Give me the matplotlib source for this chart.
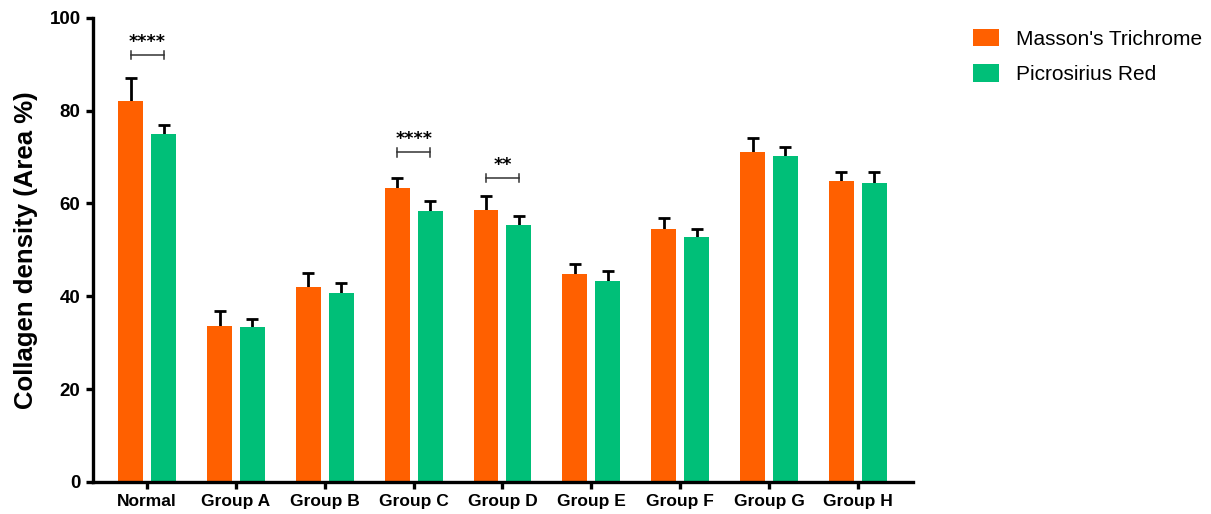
import numpy as np
import matplotlib
matplotlib.use("Agg")
import matplotlib.pyplot as plt

plt.rcParams["font.family"] = ["Liberation Sans", "DejaVu Sans"]

# Data
groups = ["Normal", "Group A", "Group B", "Group C", "Group D",
          "Group E", "Group F", "Group G", "Group H"]
masson = [82.0, 33.5, 42.0, 63.4, 58.6, 44.8, 54.6, 71.1, 64.8]
masson_err = [5.0, 3.4, 3.0, 2.1, 3.0, 2.2, 2.2, 3.1, 2.0]
picro = [75.0, 33.3, 40.8, 58.3, 55.3, 43.4, 52.8, 70.2, 64.4]
picro_err = [1.9, 1.8, 2.0, 2.3, 2.1, 2.0, 1.8, 2.0, 2.4]

# significance annotations: (group index, bracket height, label)
sig_groups = [0, 3, 4]
sig_heights = [92.0, 71.0, 65.5]
sig_labels = ["****", "****", "**"]

orange = "#FF6000"
green = "#00BF78"

fig = plt.figure(figsize=(12.11, 5.14), dpi=100)
ax = fig.add_axes([0.0768, 0.0623, 0.677, 0.903])

x = np.arange(len(groups))
w = 0.28
off = 0.185


def upper_err(xpos, vals, errs):
    # upper-only error bars with a cap at the top
    tops = np.array(vals) + np.array(errs)
    ax.vlines(xpos, vals, tops, color="black", lw=2.0, zorder=1)
    ax.plot(xpos, tops, ls="none", marker="_", markersize=9, mew=2.0,
            color="black", zorder=1)


upper_err(x - off, masson, masson_err)
upper_err(x + off, picro, picro_err)
ax.bar(x - off, masson, w, color=orange, label="Masson's Trichrome", zorder=2)
ax.bar(x + off, picro, w, color=green, label="Picrosirius Red", zorder=2)

# significance brackets
for g, h, lab in zip(sig_groups, sig_heights, sig_labels):
    x0, x1 = g - off, g + off
    ax.plot([x0, x1], [h, h], color="#333333", lw=1.1)
    ax.plot([x0, x0], [h - 0.9, h + 0.9], color="#333333", lw=1.1)
    ax.plot([x1, x1], [h - 0.9, h + 0.9], color="#333333", lw=1.1)
    ax.text(g, h + 0.9, lab, ha="center", va="bottom", fontsize=12.5,
            fontweight="bold", family="DejaVu Sans")

ax.set_xlim(-0.61, 8.62)
ax.set_ylim(0, 100)
ax.set_yticks([0, 20, 40, 60, 80, 100])
ax.set_xticks(x)
ax.set_xticklabels(groups)
for lbl in ax.get_xticklabels() + ax.get_yticklabels():
    lbl.set_fontweight("bold")
    lbl.set_fontsize(12.5)
for lbl in ax.get_yticklabels():
    lbl.set_fontsize(13.5)

ax.set_ylabel("Collagen density (Area %)", fontsize=18.5, fontweight="bold",
              labelpad=8)

for s in ["top", "right"]:
    ax.spines[s].set_visible(False)
for s in ["left", "bottom"]:
    ax.spines[s].set_linewidth(2.4)
ax.tick_params(axis="both", width=2.4, length=5, direction="out", pad=4)

fig.legend(loc="upper left", bbox_to_anchor=(0.788, 0.98), frameon=False,
           fontsize=15, handlelength=1.25, handleheight=0.9,
           handletextpad=0.8, labelspacing=0.75)

plt.savefig("out.png", dpi=100)
